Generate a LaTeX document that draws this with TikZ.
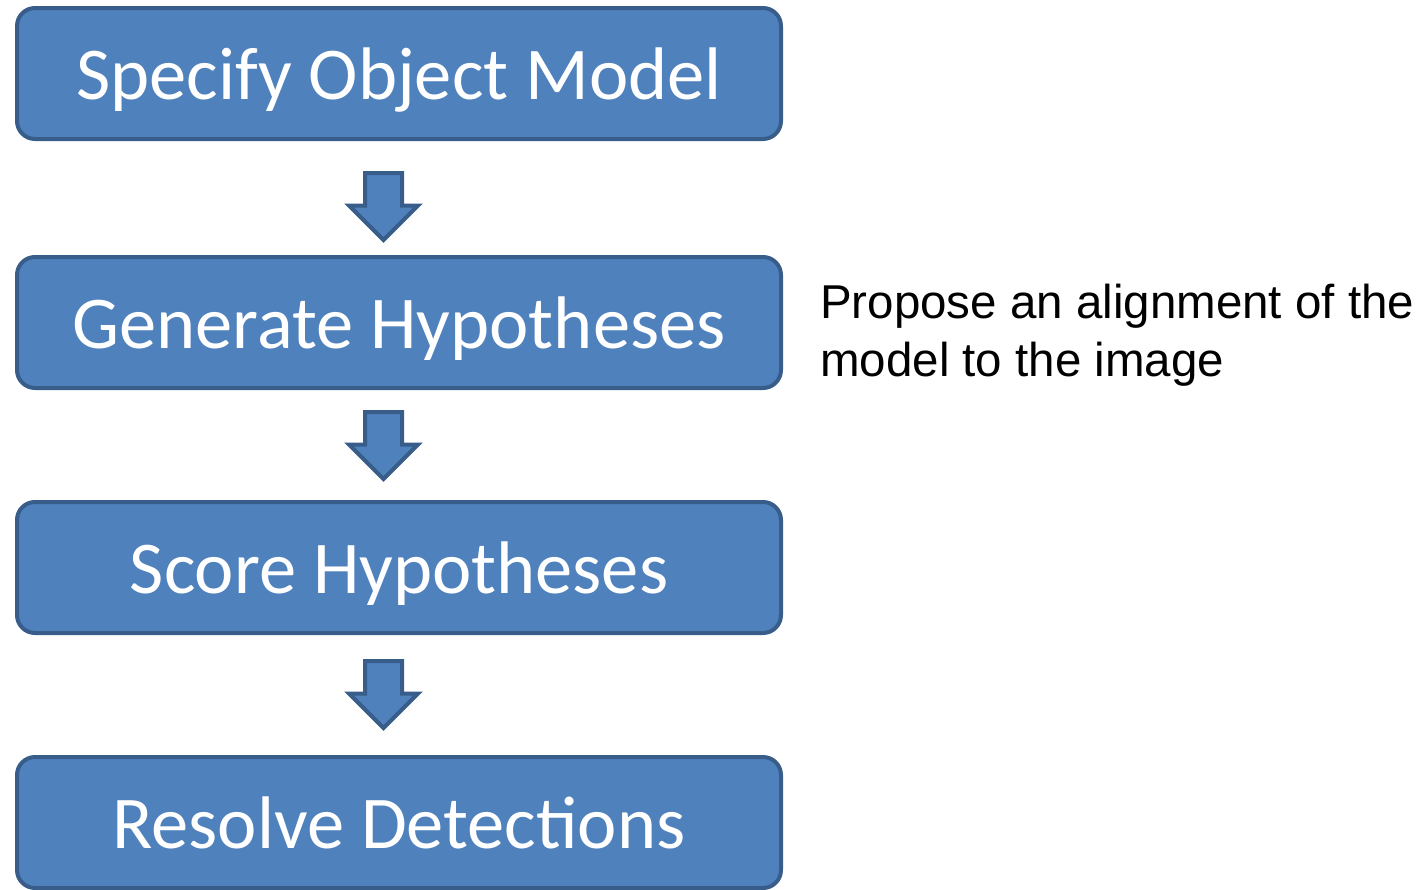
\documentclass[tikz,border=0pt]{standalone}
\usepackage{fontspec}
\setmainfont{Carlito}
\newfontfamily\notefont{Liberation Sans}
\usetikzlibrary{shapes.arrows}
\definecolor{boxfill}{HTML}{4F81BD}
\definecolor{boxline}{HTML}{385D8A}
\tikzset{
  stagebox/.style={rectangle, rounded corners=18pt, draw=boxline, line width=4pt,
    fill=boxfill, minimum width=764pt, minimum height=131pt, inner sep=0pt,
    text height=52pt, text depth=0pt,
    text=white, font=\fontsize{74.5}{90}\selectfont},
  flowarrow/.style={single arrow, shape border rotate=270, draw=boxline, line width=4pt,
    fill=boxfill, minimum height=67pt, minimum width=66pt, inner sep=16.5pt,
    text width=0pt, text height=0pt, text depth=0pt,
    single arrow head extend=16pt, single arrow head indent=0pt, anchor=tail},
  note/.style={font=\notefont\fontsize{47.5}{58}\selectfont, text=black, align=left, inner sep=0pt}
}
\begin{document}
\begin{tikzpicture}[x=1pt, y=-1pt]
  \useasboundingbox (0,0) rectangle (1424,889);
  \clip (0,0) rectangle (1424,889);
  % process stages
  \node[stagebox] (specify)  at (399,73.5)  {Specify Object Model};
  \node[stagebox] (generate) at (399,322.5) {Generate Hypotheses};
  \node[stagebox] (score)    at (399,567.5) {Score Hypotheses};
  \node[stagebox] (resolve)  at (399,822.5) {Resolve Detections};
  % block arrows between stages, placed by their tails
  \node[flowarrow] (a1) at (383.5,171) {};
  \node[flowarrow] (a2) at (383.5,410) {};
  \node[flowarrow] (a3) at (383.5,659) {};
  % side note (base anchor sits on the last line)
  \node[note, anchor=base west] (propose) at (820,376)
    {Propose an alignment of the\\model to the image};
\end{tikzpicture}
\end{document}
